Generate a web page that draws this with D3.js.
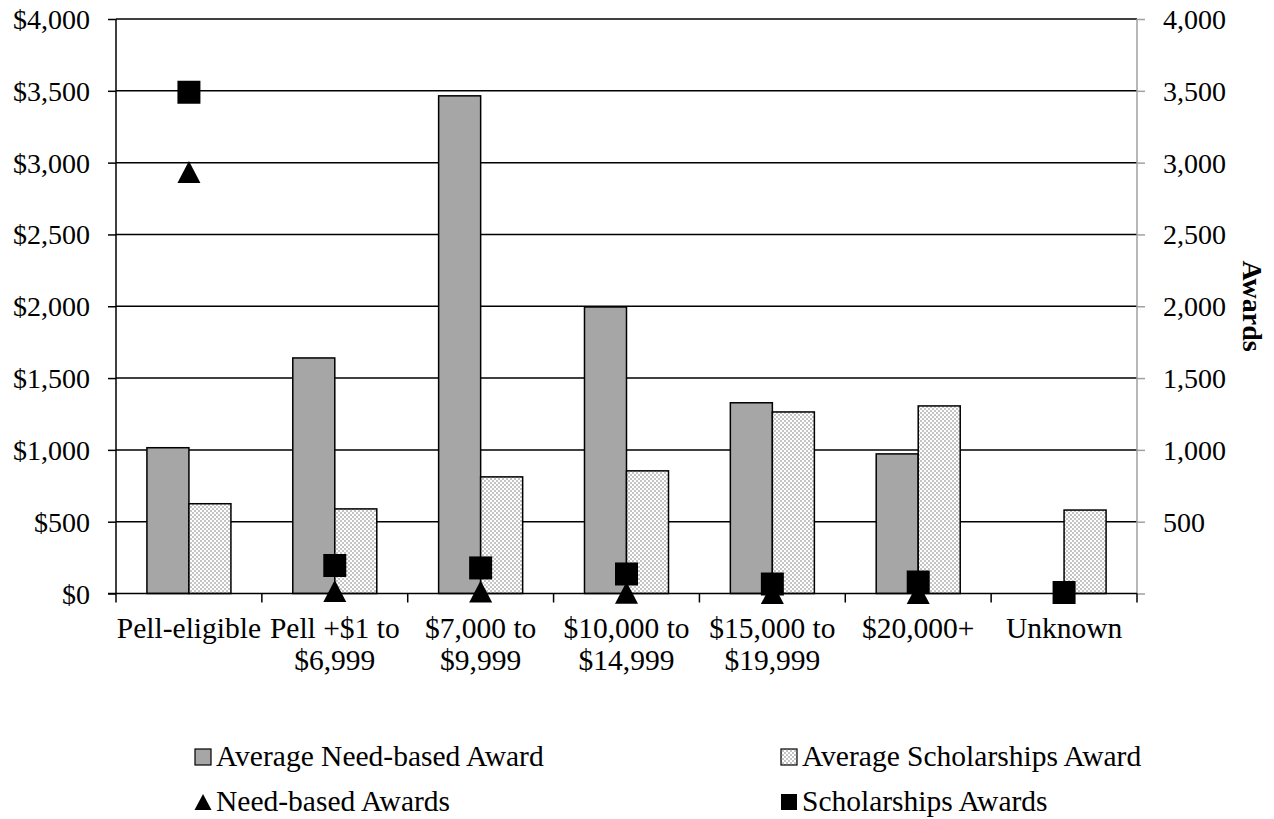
<!DOCTYPE html>
<html>
<head>
<meta charset="utf-8">
<script src="https://cdn.jsdelivr.net/npm/d3@7"></script>
<style>
  body { margin: 0; background: #fff; }
  text { font-family: "Liberation Serif", "Times New Roman", serif; fill: #000; }
</style>
</head>
<body>
<svg id="chart" width="1274" height="819"></svg>
<script>
// Income bands of recipients
const categories = ["Pell-eligible", "Pell +$1 to $6,999", "$7,000 to $9,999", "$10,000 to $14,999",
                    "$15,000 to $19,999", "$20,000+", "Unknown"];
// Average award amounts (left axis, dollars)
const avgNeedBased = [1015, 1640, 3465, 1995, 1328, 972, null];
const avgScholarships = [625, 589, 812, 854, 1264, 1306, 581];
// Number of awards (right axis)
const needBasedAwards = [2935, 17, 14, 6, 3, 4, null];
const scholarshipAwards = [3490, 195, 178, 136, 66, 80, 7];
// Axis ticks
const leftTicks = [0, 500, 1000, 1500, 2000, 2500, 3000, 3500, 4000];
const rightTicks = [0, 500, 1000, 1500, 2000, 2500, 3000, 3500, 4000];
const legendLabels = ["Average Need-based Award", "Average Scholarships Award",
                      "Need-based Awards", "Scholarships Awards"];

const svg = d3.select("#chart");
const FS_TICK = 28;
const FS = 29.5;
const plot = { left: 116, right: 1137, top: 19, bottom: 593.5 };

// checkered fill for the scholarships bars
const defs = svg.append("defs");
const pat = defs.append("pattern").attr("id", "checker")
  .attr("patternUnits", "userSpaceOnUse").attr("width", 4).attr("height", 4);
pat.append("rect").attr("width", 4).attr("height", 4).attr("fill", "#fff");
pat.append("rect").attr("width", 2).attr("height", 2).attr("fill", "#c4c4c4");
pat.append("rect").attr("x", 2).attr("y", 2).attr("width", 2).attr("height", 2).attr("fill", "#c4c4c4");

const x = d3.scaleBand().domain(d3.range(categories.length)).range([plot.left, plot.right]).padding(0);
const sub = d3.scaleBand().domain(["need", "schol"]).range([0, x.bandwidth()])
  .paddingInner(0).paddingOuter(0.736);
const yL = d3.scaleLinear().domain([0, 4000]).range([plot.bottom, plot.top]);
const yR = d3.scaleLinear().domain([0, 4000]).range([plot.bottom, plot.top]);

// gridlines
svg.append("g").selectAll("line").data(leftTicks.filter(d => d > 0)).join("line")
  .attr("x1", plot.left).attr("x2", plot.right)
  .attr("y1", d => yL(d)).attr("y2", d => yL(d))
  .attr("stroke", "#000").attr("stroke-width", 1.5);

// bars
const barG = svg.append("g");
categories.forEach((c, i) => {
  if (avgNeedBased[i] != null) {
    barG.append("rect")
      .attr("x", x(i) + sub("need")).attr("width", sub.bandwidth())
      .attr("y", yL(avgNeedBased[i])).attr("height", yL(0) - yL(avgNeedBased[i]))
      .attr("fill", "#a6a6a6").attr("stroke", "#000").attr("stroke-width", 1.5);
  }
  if (avgScholarships[i] != null) {
    barG.append("rect")
      .attr("x", x(i) + sub("schol")).attr("width", sub.bandwidth())
      .attr("y", yL(avgScholarships[i])).attr("height", yL(0) - yL(avgScholarships[i]))
      .attr("fill", "url(#checker)").attr("stroke", "#000").attr("stroke-width", 1.5);
  }
});

// left axis
const leftAxis = svg.append("g").attr("transform", `translate(${plot.left},0)`)
  .call(d3.axisLeft(yL).tickValues(leftTicks).tickSize(8).tickPadding(18).tickFormat(d3.format("$,")));
leftAxis.select(".domain").attr("stroke", "#000").attr("stroke-width", 1.5).attr("d", `M0,${plot.top}V${plot.bottom}`);
leftAxis.selectAll(".tick line").attr("stroke", "#000").attr("stroke-width", 1.5);
leftAxis.selectAll("text").attr("font-size", FS_TICK).attr("font-family", "Liberation Serif").attr("fill", "#000").attr("dy", "0.34em");

// right axis
const rightAxis = svg.append("g").attr("transform", `translate(${plot.right},0)`)
  .call(d3.axisRight(yR).tickValues(rightTicks).tickSize(8).tickPadding(18)
    .tickFormat(d => d === 0 ? "" : d3.format(",")(d)));
rightAxis.select(".domain").attr("stroke", "#a0a0a0").attr("stroke-width", 1.5).attr("d", `M0,${plot.top}V${plot.bottom}`);
rightAxis.selectAll(".tick line").attr("stroke", "#a0a0a0").attr("stroke-width", 1.5);
rightAxis.selectAll("text").attr("font-size", FS_TICK).attr("font-family", "Liberation Serif").attr("fill", "#000").attr("dy", "0.34em");

// x axis
const xAxisG = svg.append("g");
xAxisG.append("line").attr("x1", plot.left - 8).attr("x2", plot.right)
  .attr("y1", plot.bottom).attr("y2", plot.bottom).attr("stroke", "#000").attr("stroke-width", 1.5);
const boundaries = d3.range(categories.length + 1).map(i => i < categories.length ? x(i) : x(i - 1) + x.bandwidth());
xAxisG.selectAll("line.tick").data(boundaries).join("line").attr("class", "tick")
  .attr("x1", d => d).attr("x2", d => d).attr("y1", plot.bottom).attr("y2", plot.bottom + 9)
  .attr("stroke", "#000").attr("stroke-width", 1.5);
categories.forEach((c, i) => {
  const parts = c.includes(" to ") ? [c.slice(0, c.indexOf(" to ") + 3), c.slice(c.indexOf(" to ") + 4)] : [c];
  const t = xAxisG.append("text").attr("text-anchor", "middle").attr("font-size", FS)
    .attr("x", x(i) + x.bandwidth() / 2).attr("y", 638);
  parts.forEach((p, k) => t.append("tspan").attr("x", x(i) + x.bandwidth() / 2).attr("dy", k === 0 ? 0 : 32).text(p));
});

// markers
const triPath = (w, h) => `M0,${-h / 2}L${w / 2},${h / 2}L${-w / 2},${h / 2}Z`;
const sq = d3.symbol().type(d3.symbolSquare).size(529);
const mk = svg.append("g");
categories.forEach((c, i) => {
  const cx = x(i) + x.bandwidth() / 2;
  if (needBasedAwards[i] != null) {
    mk.append("path").attr("d", triPath(23, 22)).attr("fill", "#000")
      .attr("transform", `translate(${cx},${yR(needBasedAwards[i])})`);
  }
});
categories.forEach((c, i) => {
  const cx = x(i) + x.bandwidth() / 2;
  if (scholarshipAwards[i] != null) {
    mk.append("path").attr("d", sq()).attr("fill", "#000")
      .attr("transform", `translate(${cx},${yR(scholarshipAwards[i])})`);
  }
});

// right axis title
svg.append("text").attr("font-size", FS_TICK).attr("font-weight", "bold").attr("text-anchor", "middle")
  .attr("transform", `translate(1243,306) rotate(90)`).text("Awards");

// legend
const leg = svg.append("g");
const legPos = [[195, 766], [781, 766], [195, 811], [781, 811]];
legPos.forEach(([lx, ly], k) => {
  const cy = ly - 9;
  if (k === 0) leg.append("rect").attr("x", lx).attr("y", cy - 8).attr("width", 16).attr("height", 16)
    .attr("fill", "#a6a6a6").attr("stroke", "#000").attr("stroke-width", 1.2);
  if (k === 1) leg.append("rect").attr("x", lx).attr("y", cy - 8).attr("width", 16).attr("height", 16)
    .attr("fill", "url(#checker)").attr("stroke", "#000").attr("stroke-width", 1.2);
  if (k === 2) leg.append("path").attr("d", triPath(17, 16))
    .attr("fill", "#000").attr("transform", `translate(${lx + 8},${cy})`);
  if (k === 3) leg.append("rect").attr("x", lx).attr("y", cy - 8).attr("width", 16).attr("height", 16).attr("fill", "#000");
  leg.append("text").attr("x", lx + 21).attr("y", ly).attr("font-size", FS).text(legendLabels[k]);
});
</script>
</body>
</html>
